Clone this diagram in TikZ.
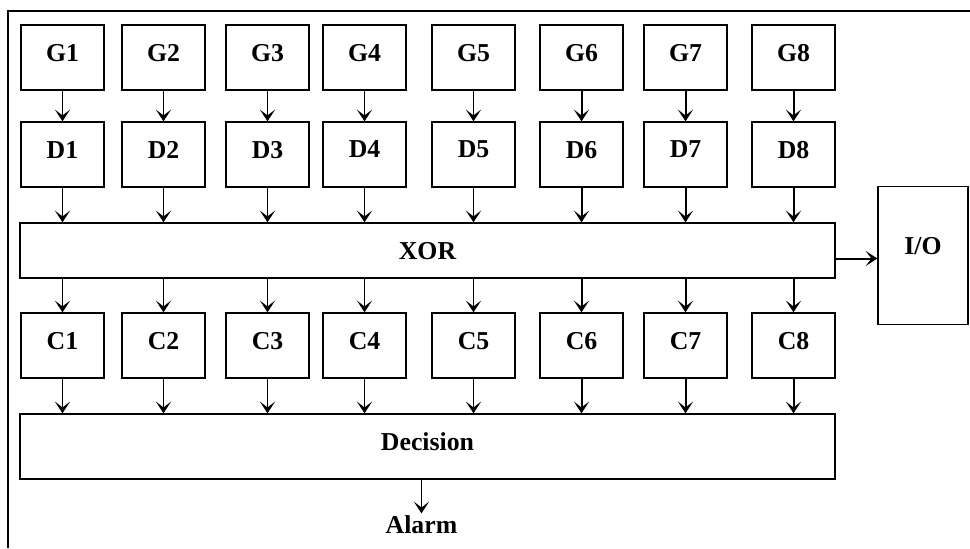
\documentclass[tikz,border=0pt]{standalone}
\usepackage{fontspec}
\setmainfont{Liberation Serif}
\usepackage{tikz}
\usetikzlibrary{positioning, arrows.meta}

\tikzset{
	blk/.style={draw, line width=1.2pt, minimum width=2.49cm, minimum height=1.95cm,
		inner sep=0pt, font=\bfseries\fontsize{22}{26}\selectfont, text depth=0.3cm},
	flow/.style={draw, line width=1.7pt, -{Stealth[length=10pt, width=13pt, inset=5pt]}}
}

\begin{document}
\begin{tikzpicture}[x=0.03cm, y=-0.03cm]
	\useasboundingbox (0,0) rectangle (970,548);
	% Frame
	\draw[line width=1.3pt] (8,548) -- (8,11) -- (970,11);
	% Rows of blocks
	\foreach \i/\x in {1/62.5, 2/163.5, 3/267.5, 4/364.5, 5/473.5, 6/581.5, 7/685.5, 8/793.5} {
		\node[blk] (G\i) at (\x,57.5) {G\i};
		\node[blk] (D\i) at (\x,154.5) {D\i};
		\node[blk] (C\i) at (\x,345.5) {C\i};
	}
	% Wide blocks
	\node[blk, minimum width=24.45cm, minimum height=1.65cm, text depth=0pt] (XOR) at (427.5,250.5) {XOR};
	\node[blk, minimum width=24.45cm] (Dec) at (427.5,446.5) {Decision};
	\node[blk, minimum width=2.7cm, minimum height=4.14cm, text depth=0.6cm] (IO) at (923,255.5) {I/O};
	\node[font=\bfseries\fontsize{22}{26}\selectfont, inner sep=2pt] (Alarm) at (421.5,525) {Alarm};
	% Connections
	\foreach \i in {1,...,8} {
		\draw[flow] (G\i) -- (D\i);
		\draw[flow] (D\i) -- (D\i |- XOR.north);
		\draw[flow] (XOR.south -| C\i) -- (C\i);
		\draw[flow] (C\i) -- (C\i |- Dec.north);
	}
	\draw[flow] ([yshift=-0.24cm]XOR.east) -- ([yshift=-0.24cm]XOR.east -| IO.west);
	\draw[flow] (Alarm.north |- Dec.south) -- (Alarm.north);
\end{tikzpicture}
\end{document}
